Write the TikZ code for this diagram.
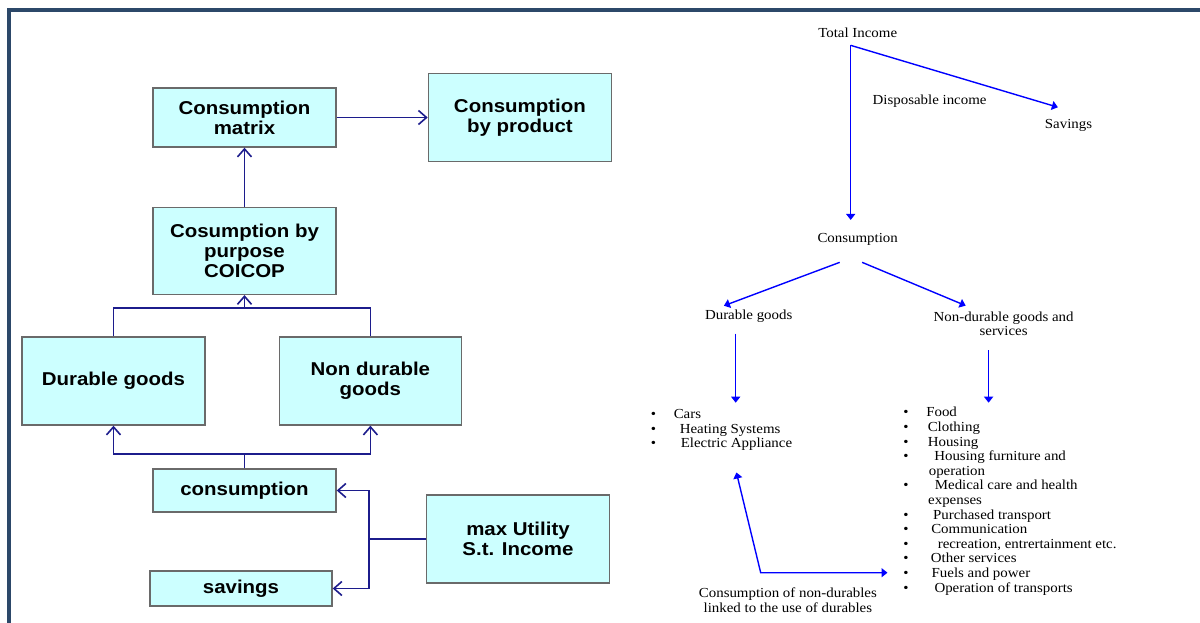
\documentclass[tikz,border=0pt]{standalone}
\usepackage{fontspec}
\setmainfont[FakeStretch=1.08]{Liberation Serif}
\newfontfamily\boxfont[FakeStretch=1.1]{Liberation Sans}
\usetikzlibrary{arrows.meta,positioning,calc}
\definecolor{boxfill}{HTML}{CCFFFF}
\definecolor{boxline}{HTML}{6A6A6A}
\definecolor{linknavy}{RGB}{28,28,140}
\definecolor{framecol}{RGB}{44,72,105}
\tikzset{
	block/.style={
		rectangle,
		draw=boxline,
		line width=1.4pt,
		fill=boxfill,
		minimum width=183pt,
		align=center,
		font=\boxfont\bfseries\fontsize{18.6}{20}\selectfont,
	},
	link/.style={
		draw=linknavy,
		line width=1.6pt,
		-{Straight Barb[length=8pt,width=14pt]},
	},
	joint/.style={
		draw=linknavy,
		line width=1.6pt,
	},
	word/.style={
		inner sep=0pt,
		align=center,
		font=\fontsize{13.8}{14.6}\selectfont,
	},
	flow/.style={
		draw=blue,
		line width=1.4pt,
		-{Triangle[length=6pt,width=9pt]},
	},
}
\newcommand{\bulitem}[2][0pt]{\makebox[23pt][l]{\textbullet}\hspace*{#1}#2}

\begin{document}
\begin{tikzpicture}[x=1pt, y=-1pt]
	\useasboundingbox (0,0) rectangle (1200,623);
	\draw[framecol, line width=4.5pt] (9.2,623) |- (1200,10.2);
	
	% left: the boxes
	\node [block, minimum height=59pt] (matrix) at (244.5,117.5) {Consumption\\matrix};
	\node [block, minimum height=88pt] (product) [right=91pt of matrix] {Consumption\\by product};
	\node [block, minimum height=87pt] (purpose) [below=59pt of matrix] {Cosumption by\\purpose\\COICOP};
	\node [block, minimum height=88pt] (durable) at (113.5,381) {Durable goods};
	\node [block, minimum height=88pt, minimum width=182pt] (nondurable) [right=73pt of durable] {Non durable\\goods};
	\node [block, minimum height=43pt] (consumption) at (244.5,490.5) {consumption};
	\node [block, minimum height=35pt, minimum width=182pt] (savings) at (241,588.5) {savings};
	\node [block, minimum height=88pt] (utility) at (518,539) {max Utility\\S.t. Income};
	
	\coordinate (upjoin) at (244.5,307.7);
	\coordinate (downjoin) at (244.5,454);
	\coordinate (split) at (369,539);
	
	\draw [link] (matrix.east) -- (product.west);
	\draw [link] (purpose) -- (matrix);
	\draw [joint] (durable.north) |- (upjoin) -| (nondurable.north);
	\draw [link] (upjoin) -- (purpose.south);
	\draw [joint] (consumption.north) -- (downjoin);
	\draw [link] (downjoin) -| (durable.south);
	\draw [link] (downjoin) -| (nondurable.south);
	\draw [joint] (utility.west) -- (split);
	\draw [link] (split) |- (consumption.east);
	\draw [link] (split) |- (savings.east);
	
	% right: the income tree
	\node [word] (total) at (857.7,33) {Total Income};
	\node [word] (disposable) at (929.6,101) {Disposable income};
	\node [word] (saving) at (1068.5,125.3) {Savings};
	\node [word] (cons) at (857.7,239) {Consumption};
	\node [word] (durgoods) at (748.7,316.7) {Durable goods};
	\node [word] (nondurgoods) at (1003.6,323.9) {Non-durable goods and\\services};
	\node [word, align=left, anchor=north west] (durlist) at (650.6,409.3) {\bulitem{Cars}\\\bulitem[6pt]{Heating Systems}\\\bulitem[7pt]{Electric Appliance}};
	\node [word, align=left, anchor=north west] (nondurlist) at (903.1,407.2) {\bulitem{Food}\\
		\bulitem[1.5pt]{Clothing}\\
		\bulitem[1.5pt]{Housing}\\
		\bulitem[8pt]{Housing furniture and}\\
		\hspace*{25.5pt}operation\\
		\bulitem[8.6pt]{Medical care and health}\\
		\hspace*{24.9pt}expenses\\
		\bulitem[6.8pt]{Purchased transport}\\
		\bulitem[5pt]{Communication}\\
		\bulitem[11.5pt]{recreation, entrertainment etc.}\\
		\bulitem[4.6pt]{Other services}\\
		\bulitem[5.4pt]{Fuels and power}\\
		\bulitem[8.2pt]{Operation of transports}};
	\node [word] (linked) at (787.9,600.5) {Consumption of non-durables\\linked to the use of durables};
	\coordinate (elbow) at (760.7,572.7);
	
	\draw [flow] ([shift={(-7pt,-7.3pt)}]total.south) -- ([shift={(-7pt,12.8pt)}]cons.north);
	\draw [flow] ([shift={(-7pt,-7.3pt)}]total.south) -- ([shift={(-10.6pt,11.8pt)}]saving.north);
	\draw [flow] ([shift={(-18pt,-17.1pt)}]cons.south) -- ([shift={(-24.8pt,4.5pt)}]durgoods.north);
	\draw [flow] ([shift={(4.4pt,-17.1pt)}]cons.south) -- ([shift={(-37.9pt,5.9pt)}]nondurgoods.north);
	\draw [flow, shorten >=6.6pt] ([shift={(-13pt,-10.4pt)}]durgoods.south) coordinate (d1) -- (d1 |- durlist.north);
	\draw [flow, shorten >=4.5pt] ([shift={(-15pt,-14.1pt)}]nondurgoods.south) coordinate (n1) -- (n1 |- nondurlist.north);
	\draw [flow, {Triangle[length=6pt,width=9pt]}-{Triangle[length=6pt,width=9pt]}, shorten >=15.6pt] ([shift={(85.8pt,-21.5pt)}]durlist.south west) -- (elbow) -- (elbow -| nondurlist.west);
\end{tikzpicture}
\end{document}
